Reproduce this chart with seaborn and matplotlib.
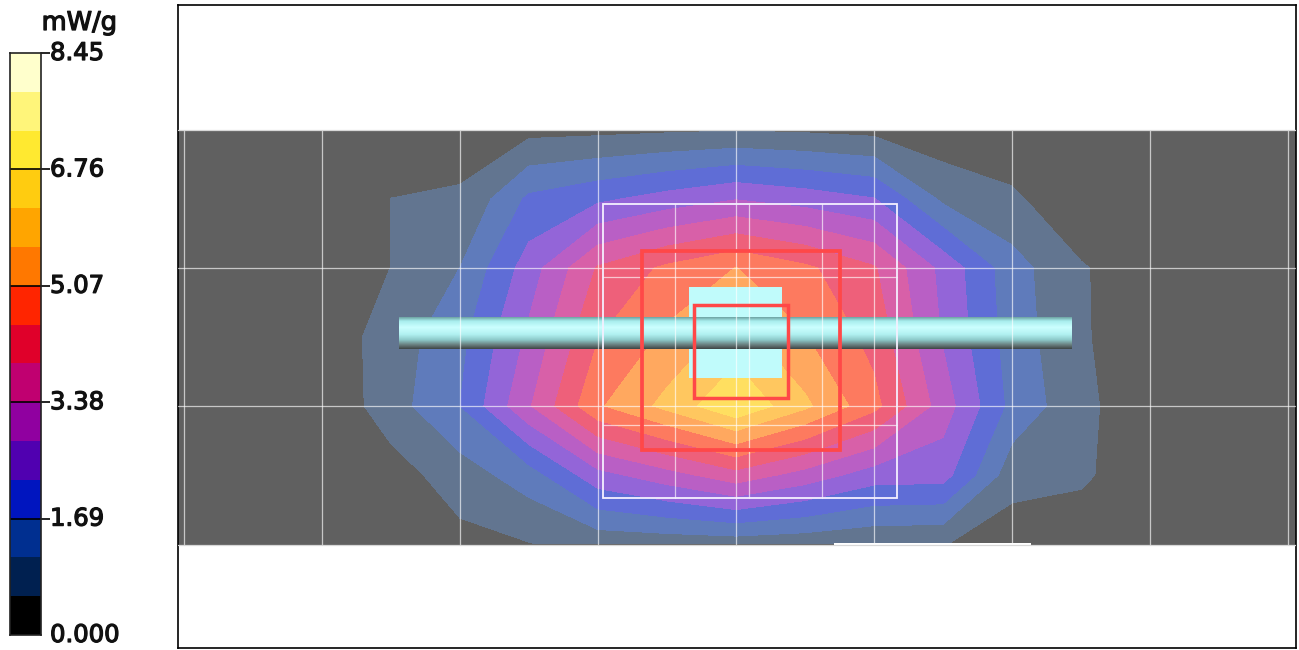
import numpy as np
import seaborn as sns
import matplotlib.pyplot as plt
import matplotlib.patheffects as pe
from matplotlib.colors import ListedColormap, LinearSegmentedColormap
from matplotlib.patches import Rectangle

W, H = 1299, 650

# legend colours, top band first
scale_colors = ['#FFFFCC', '#FFF57A', '#FFE930', '#FFCC10', '#FFA500', '#FF7800', '#FF2500', '#E0002A',
                '#C00070', '#9000A0', '#5000B0', '#0015BF', '#002F90', '#002050', '#000000']
scale_ticks = [0, 3, 6, 9, 12, 15]
scale_labels = ['8.45', '6.76', '5.07', '3.38', '1.69', '0.000']

# colours of the bands in the map (blended over grey), lowest band first
band_colors = ['#627590', '#5F7BBB', '#5F6DD6', '#9365D8', '#B95FC5', '#D860A8', '#EE607A',
               '#FD7A5F', '#FFA85F', '#FFC75F', '#FFDF60']
levels = [0.5633, 1.1267, 1.69, 2.2533, 2.8167, 3.38, 3.9433, 4.5067, 5.07, 5.6333, 6.1967, 6.76]

# measurement grid, in picture pixels
grid_x = [184, 253, 322, 391, 460, 529, 598, 667, 736, 805, 874, 943, 1012, 1081, 1150, 1219, 1288]
grid_y = [130, 199, 268, 337, 406, 475, 544]

row_130 = [0, 0, 0, 0, 0.50, 0.39, 0.42, 0.48, 0.53, 0.48, 0.39, 0.17, 0.06, 0, 0, 0, 0]
row_199 = [0, 0, 0, 0.57, 0.58, 1.80, 2.14, 2.48, 2.79, 2.56, 2.28, 1.01, 0.68, 0.06, 0, 0, 0]
row_268 = [0, 0, 0, 0.57, 1.13, 2.53, 4.00, 4.62, 5.08, 4.62, 4.00, 2.65, 1.35, 0.62, 0.17, 0, 0]
row_337 = [0, 0, 0.20, 0.82, 1.52, 2.93, 4.48, 5.18, 5.86, 5.10, 4.31, 2.76, 1.41, 0.65, 0.06, 0, 0]
row_406 = [0, 0, 0.08, 0.87, 1.69, 3.32, 4.99, 5.80, 6.70, 5.75, 4.68, 3.10, 1.52, 0.73, 0.11, 0, 0]
row_475 = [0, 0, 0, 0.31, 0.85, 1.41, 2.62, 3.15, 3.72, 3.15, 2.53, 2.48, 0.79, 0.65, 0.22, 0, 0]
row_544 = [0, 0, 0, 0, 0.39, 0.54, 0.73, 0.76, 0.79, 0.73, 0.62, 0.59, 0.23, 0.23, 0, 0, 0]
sar = np.array([row_130, row_199, row_268, row_337, row_406, row_475, row_544])

# scan outlines
area_lines_x = [675, 749, 822]
area_lines_y = [277, 425]

sns.set_style('white')
plt.rcParams['font.family'] = ['DejaVu Sans']

fig = plt.figure(figsize=(W / 100, H / 100), dpi=100, facecolor='white')


def axes_px(x0, y0, x1, y1):
    return fig.add_axes([x0 / W, 1 - y1 / H, (x1 - x0) / W, (y1 - y0) / H])


# main view, axes in picture pixels
ax = axes_px(178, 5, 1296, 648)
ax.set_xticks([])
ax.set_yticks([])
for s in ax.spines.values():
    s.set_color('black')
    s.set_linewidth(1.2)

ax.add_patch(Rectangle((178, 130), 1118, 415, color='#606060', lw=0, zorder=1))
ax.contourf(grid_x, grid_y, sar, levels=levels, colors=band_colors, zorder=2, antialiased=False)
ax.add_patch(Rectangle((834, 543), 197, 3, color='white', lw=0, zorder=3))

# probe block and bar
ax.add_patch(Rectangle((689, 287), 93, 91, color='#C0FBFB', lw=0, zorder=3))
bar_cmap = LinearSegmentedColormap.from_list('bar', [(0, '#6FA5A5'), (0.12, '#A8EEEE'), (0.32, '#CCFFFF'),
                                                      (0.55, '#B0F0F0'), (0.72, '#8CC8C8'), (0.88, '#687C7C'),
                                                      (1, '#404848')])
ax.imshow(np.linspace(0, 1, 64).reshape(-1, 1), cmap=bar_cmap, extent=(399, 1072, 349, 317),
          aspect='auto', zorder=4)
ax.set_xlim(178, 1296)
ax.set_ylim(648, 5)

# coarse grid
for x in grid_x[::2]:
    ax.plot([x, x], [130, 545], color='white', alpha=0.65, lw=0.9, zorder=5)
for y in (268, 406):
    ax.plot([178, 1296], [y, y], color='white', alpha=0.65, lw=0.9, zorder=5)
for y in (130, 545):
    ax.plot([178, 1296], [y, y], color='#D8D8D8', lw=0.9, zorder=5)

# scan areas
ax.add_patch(Rectangle((603, 204), 294, 294, fill=False, ec='#F4F0FF', lw=1.3, zorder=6))
for x in area_lines_x:
    ax.plot([x, x], [204, 498], color='white', alpha=0.65, lw=0.9, zorder=5)
for y in area_lines_y:
    ax.plot([603, 897], [y, y], color='white', alpha=0.65, lw=0.9, zorder=5)
ax.add_patch(Rectangle((642, 251), 198, 199, fill=False, ec='#FF4848', lw=2.7, zorder=7))
ax.add_patch(Rectangle((694, 305), 94, 93, fill=False, ec='#FF4848', lw=2.5, zorder=7))

# colour scale
cax = axes_px(10, 53, 41, 635)
cells = np.arange(15).reshape(-1, 1)
sns.heatmap(cells, ax=cax, cmap=ListedColormap(scale_colors), cbar=False, xticklabels=False, vmin=-0.5, vmax=14.5)
cax.yaxis.tick_right()
cax.set_yticks(scale_ticks)
cax.set_yticklabels(scale_labels, rotation=0, fontsize=17.5, color='#111111')
cax.tick_params(axis='y', right=True, left=False, length=6.5, width=1.2, color='black', pad=0)
cax.yaxis.get_major_ticks()[-1].tick2line.set_visible(False)
cax.hlines(scale_ticks[1:-1], 0, 1, color='black', lw=1.2)
for s in cax.spines.values():
    s.set_visible(True)
    s.set_color('#222222')
    s.set_linewidth(1.2)
heavy = [pe.withStroke(linewidth=0.9, foreground='#111111')]
for lab in cax.get_yticklabels():
    lab.set_path_effects(heavy)
    lab.set_verticalalignment('center')
    lab.set_y(lab.get_position()[1])
title = fig.text(79.5 / W, 1 - 23 / H, 'mW/g', ha='center', va='center', fontsize=18.5, color='#111111')
title.set_path_effects(heavy)

plt.savefig('out.png', dpi=100)
